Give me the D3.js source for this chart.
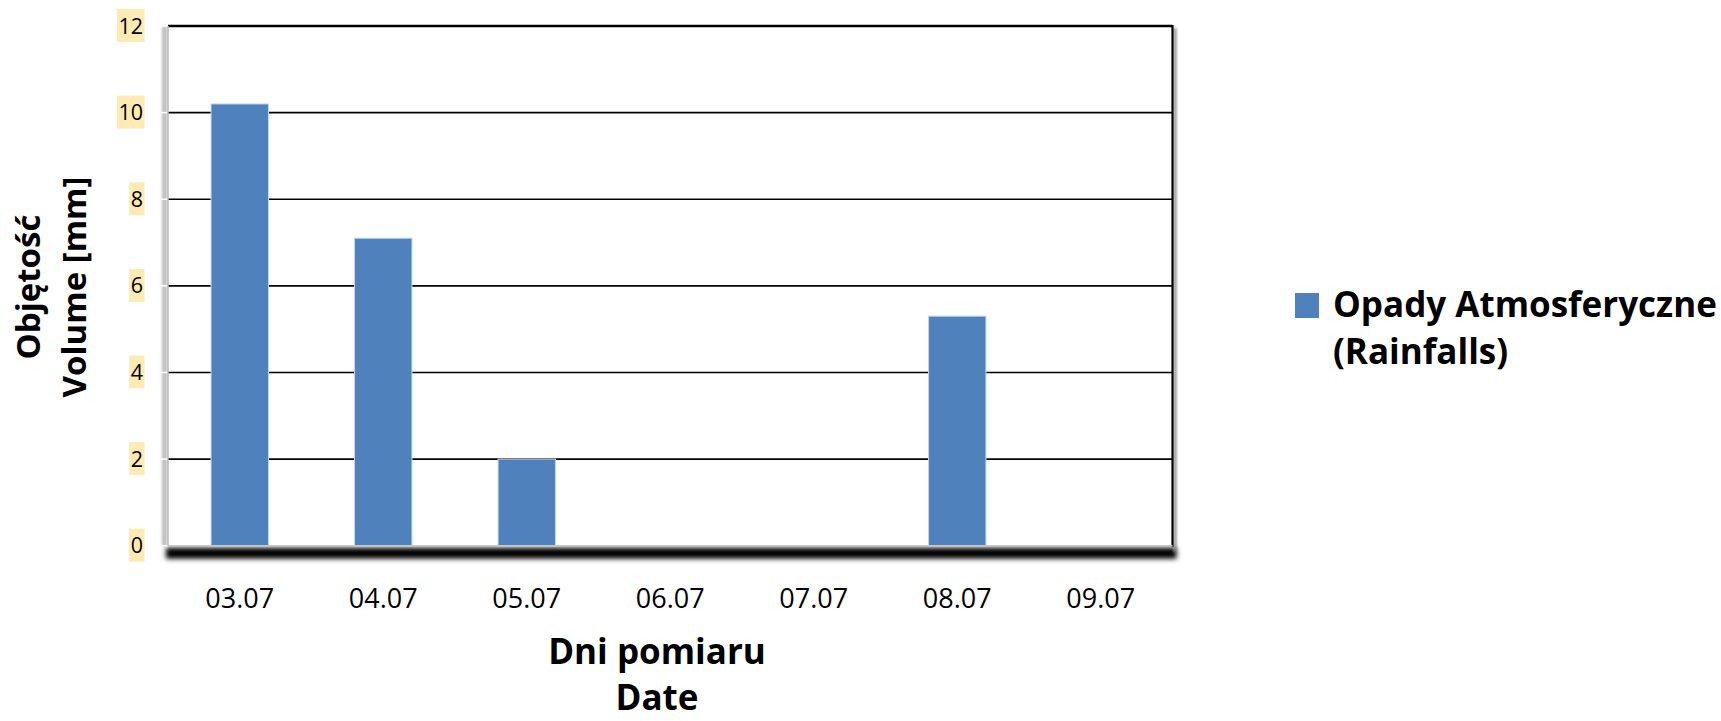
<!DOCTYPE html>
<html>
<head>
<meta charset="utf-8">
<script src="https://cdn.jsdelivr.net/npm/d3@7"></script>
<style>
  html, body { margin: 0; padding: 0; background: #fff; }
  svg { display: block; font-family: "Open Sans", sans-serif; }
</style>
</head>
<body>
<svg id="chart" width="1721" height="721"></svg>
<script>
// Daily rainfall, July
const categories = ["03.07", "04.07", "05.07", "06.07", "07.07", "08.07", "09.07"];
const rainfall = [10.2, 7.1, 2.0, 0, 0, 5.3, 0];
const yTicks = [0, 2, 4, 6, 8, 10, 12];
const seriesName = ["Opady Atmosferyczne", "(Rainfalls)"];
const yTitle = ["Objętość", "Volume [mm]"];
const xTitle = ["Dni pomiaru", "Date"];

const svg = d3.select("#chart");
const plot = { left: 168, right: 1172.5, top: 26, bottom: 545.7 };
const barColor = "#4F81BD";

const x = d3.scaleBand()
  .domain(categories)
  .range([plot.left, plot.right])
  .paddingInner(0.6)
  .paddingOuter(0.3);

const y = d3.scaleLinear().domain([0, 12]).range([plot.bottom, plot.top]);

const defs = svg.append("defs");
defs.append("filter").attr("id", "shadowBlur")
  .attr("x", "-10%").attr("y", "-200%").attr("width", "120%").attr("height", "500%")
  .append("feGaussianBlur").attr("stdDeviation", 2.6);
defs.append("filter").attr("id", "softBlur")
  .attr("x", "-50%").attr("y", "-10%").attr("width", "200%").attr("height", "120%")
  .append("feGaussianBlur").attr("stdDeviation", 1.6);

// frame shadows: heavy one below the floor, lighter ones on the sides
svg.append("rect")
  .attr("x", plot.left - 2).attr("y", plot.bottom + 2)
  .attr("width", plot.right - plot.left + 6).attr("height", 11)
  .attr("fill", "#000").attr("filter", "url(#shadowBlur)");
svg.append("rect")
  .attr("x", plot.left - 6).attr("y", plot.top)
  .attr("width", 5).attr("height", plot.bottom - plot.top)
  .attr("fill", "#bbb").attr("filter", "url(#softBlur)");
svg.append("rect")
  .attr("x", plot.right + 1).attr("y", plot.top + 2)
  .attr("width", 3).attr("height", plot.bottom - plot.top + 4)
  .attr("fill", "#888").attr("filter", "url(#softBlur)");

// plot area
svg.append("rect")
  .attr("x", plot.left).attr("y", plot.top)
  .attr("width", plot.right - plot.left).attr("height", plot.bottom - plot.top)
  .attr("fill", "#fff");

// horizontal gridlines
svg.append("g")
  .selectAll("line")
  .data(yTicks.filter(d => d > 0))
  .join("line")
  .attr("x1", plot.left).attr("x2", plot.right)
  .attr("y1", d => y(d)).attr("y2", d => y(d))
  .attr("stroke", "#000")
  .attr("stroke-width", d => d === 12 ? 2.4 : 1.6);

// white tick marks across the left shadow
svg.append("g")
  .selectAll("line")
  .data(yTicks)
  .join("line")
  .attr("x1", plot.left - 7).attr("x2", plot.left)
  .attr("y1", d => y(d)).attr("y2", d => y(d))
  .attr("stroke", "#fff").attr("stroke-width", 1.5);

// frame edges
svg.append("line")
  .attr("x1", plot.left).attr("x2", plot.left)
  .attr("y1", plot.top).attr("y2", plot.bottom)
  .attr("stroke", "#b8b8b8").attr("stroke-width", 1.5);
svg.append("line")
  .attr("x1", plot.right).attr("x2", plot.right)
  .attr("y1", plot.top - 1).attr("y2", plot.bottom + 1)
  .attr("stroke", "#000").attr("stroke-width", 2.2);

// bars
svg.append("g")
  .selectAll("rect")
  .data(categories.map((c, i) => ({ c, v: rainfall[i] })).filter(d => d.v > 0))
  .join("rect")
  .attr("x", d => x(d.c))
  .attr("y", d => y(d.v))
  .attr("width", x.bandwidth())
  .attr("height", d => y(0) - y(d.v))
  .attr("fill", barColor)
  .attr("stroke", "#c6d6ea").attr("stroke-width", 1);

svg.append("line")
  .attr("x1", plot.left).attr("x2", plot.right)
  .attr("y1", plot.bottom).attr("y2", plot.bottom)
  .attr("stroke", "#c8c8c8").attr("stroke-width", 1.5);

// y tick labels on pale yellow boxes
const yLab = svg.append("g").selectAll("g").data(yTicks).join("g");
yLab.append("text")
  .attr("x", 143).attr("y", d => y(d) + 7.5)
  .attr("text-anchor", "end")
  .attr("font-size", 21.5)
  .attr("fill", "#000")
  .text(d => d);
yLab.each(function () {
  const g = d3.select(this);
  const b = g.select("text").node().getBBox();
  const ty = y(g.datum());
  g.insert("rect", "text")
    .attr("x", b.x - 1.5).attr("y", ty - 17)
    .attr("width", b.width + 3).attr("height", 33)
    .attr("fill", "#FEEBB4");
});

// x tick labels
svg.append("g")
  .selectAll("text")
  .data(categories)
  .join("text")
  .attr("x", d => x(d) + x.bandwidth() / 2)
  .attr("y", 608)
  .attr("text-anchor", "middle")
  .attr("font-size", 27)
  .attr("fill", "#000")
  .text(d => d);

// axis titles
svg.append("g")
  .selectAll("text")
  .data(xTitle)
  .join("text")
  .attr("x", 657)
  .attr("y", (d, i) => 664 + i * 46)
  .attr("text-anchor", "middle")
  .attr("font-size", 35)
  .attr("font-weight", "bold")
  .text(d => d);

svg.append("g")
  .selectAll("text")
  .data(yTitle)
  .join("text")
  .attr("transform", (d, i) => `translate(${40 + i * 46},287) rotate(-90)`)
  .attr("text-anchor", "middle")
  .attr("font-size", 33)
  .attr("font-weight", "bold")
  .text(d => d);

// legend
const legend = svg.append("g");
legend.append("rect")
  .attr("x", 1295).attr("y", 293)
  .attr("width", 24).attr("height", 25)
  .attr("fill", barColor);
legend.selectAll("text")
  .data(seriesName)
  .join("text")
  .attr("x", 1333)
  .attr("y", (d, i) => 317 + i * 47)
  .attr("font-size", 35)
  .attr("font-weight", "bold")
  .text(d => d);
</script>
</body>
</html>
